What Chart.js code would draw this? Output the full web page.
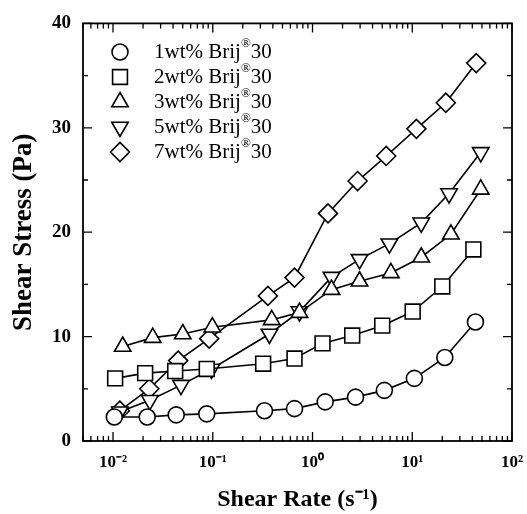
<!DOCTYPE html>
<html>
<head>
<meta charset="utf-8">
<script src="https://cdn.jsdelivr.net/npm/chart.js@4/dist/chart.umd.min.js"></script>
<style>
  body { margin: 0; background: #fff; }
  #wrap { width: 527px; height: 514px; }
</style>
</head>
<body>
<div id="wrap"><canvas id="shearChart" width="527" height="514"></canvas></div>
<script>
// Shear stress vs shear rate, Brij 30 series
const seriesLabels = ['1wt% Brij®30', '2wt% Brij®30', '3wt% Brij®30', '5wt% Brij®30', '7wt% Brij®30'];

const rate1 = [0.0103, 0.022, 0.043, 0.087, 0.33, 0.66, 1.34, 2.7, 5.25, 10.5, 21.2, 43];
const stress1 = [2.3, 2.3, 2.5, 2.6, 2.9, 3.1, 3.75, 4.2, 4.85, 6.0, 8.0, 11.4];

const rate2 = [0.0105, 0.021, 0.042, 0.087, 0.32, 0.66, 1.26, 2.5, 5.0, 10.1, 20, 41];
const stress2 = [6.0, 6.5, 6.7, 6.9, 7.4, 7.9, 9.35, 10.1, 11.05, 12.4, 14.8, 18.35];

const rate3 = [0.0125, 0.025, 0.05, 0.099, 0.39, 0.74, 1.55, 2.96, 6.1, 12.3, 24.4, 48.6];
const stress3 = [9.05, 9.9, 10.25, 10.9, 11.6, 12.3, 14.5, 15.3, 16.1, 17.6, 19.8, 24.1];

const rate4 = [0.0117, 0.0234, 0.048, 0.097, 0.37, 0.74, 1.55, 2.96, 5.9, 12.3, 23.4, 48.6];
const stress4 = [2.8, 3.9, 5.35, 6.9, 10.25, 12.4, 15.7, 17.4, 18.9, 20.9, 23.7, 27.65];

const rate5 = [0.0117, 0.0231, 0.045, 0.092, 0.357, 0.66, 1.43, 2.83, 5.48, 11.0, 21.7, 43.8];
const stress5 = [2.9, 5.0, 7.7, 9.8, 13.9, 15.65, 21.8, 24.9, 27.3, 29.9, 32.4, 36.2];

const yTicks = [0, 10, 20, 30, 40];
const xMin = 0.005, xMax = 100;

const serif = "'Liberation Serif', 'Times New Roman', serif";
const SUP = { '-': '⁻', '0': '⁰', '1': '¹', '2': '²', '3': '³' };

const markers = [
  { pointStyle: 'circle', radius: 8, rotation: 0 },
  { pointStyle: 'rect', radius: 10.5, rotation: 0 },
  { pointStyle: 'triangle', radius: 9.5, rotation: 0 },
  { pointStyle: 'triangle', radius: 9.5, rotation: 180 },
  { pointStyle: 'rectRot', radius: 9.5, rotation: 0 },
];

const pairs = [[rate1, stress1], [rate2, stress2], [rate3, stress3], [rate4, stress4], [rate5, stress5]];

const datasets = pairs.map(([xs, ys], i) => ({
  label: seriesLabels[i],
  data: xs.map((x, j) => ({ x: x, y: ys[j] })),
  showLine: true,
  borderColor: '#000', borderWidth: 1.6,
  pointStyle: markers[i].pointStyle,
  pointRotation: markers[i].rotation,
  pointRadius: markers[i].radius,
  pointHoverRadius: markers[i].radius,
  pointBackgroundColor: '#fff',
  pointBorderColor: '#000',
  pointBorderWidth: 1.6,
  tension: 0,
}));

// ── frame + inward tick marks on all four sides ──
const framePlugin = {
  id: 'frame',
  afterDatasetsDraw(chart) {
    const { ctx, chartArea: a, scales: { x, y } } = chart;
    ctx.save();
    ctx.strokeStyle = '#000';
    ctx.lineWidth = 1.3;
    for (let e = -3; e <= 2; e++) {
      for (let m = 1; m <= 9; m++) {
        const v = m * Math.pow(10, e);
        if (v < xMin - 1e-12 || v > xMax + 1e-9) continue;
        const px = x.getPixelForValue(v);
        const len = m === 1 ? 9 : 5;
        ctx.beginPath();
        ctx.moveTo(px, a.bottom); ctx.lineTo(px, a.bottom - len);
        ctx.moveTo(px, a.top); ctx.lineTo(px, a.top + len);
        ctx.stroke();
      }
    }
    for (let v = 0; v <= 40; v += 5) {
      const py = y.getPixelForValue(v);
      const len = v % 10 === 0 ? 9 : 5;
      ctx.beginPath();
      ctx.moveTo(a.left, py); ctx.lineTo(a.left + len, py);
      ctx.moveTo(a.right, py); ctx.lineTo(a.right - len, py);
      ctx.stroke();
    }
    ctx.lineWidth = 1.8;
    ctx.strokeRect(a.left, a.top, a.right - a.left, a.bottom - a.top);
    ctx.restore();
  }
};

// ── legend in the top-left corner, with superscript ® ──
const legendPlugin = {
  id: 'brijLegend',
  afterDraw(chart) {
    const { ctx } = chart;
    ctx.save();
    chart.data.datasets.forEach((ds, i) => {
      const cy = 52 + i * 25;
      ctx.fillStyle = '#fff';
      ctx.strokeStyle = '#000';
      ctx.lineWidth = 1.6;
      Chart.helpers.drawPoint(ctx, {
        pointStyle: ds.pointStyle, rotation: ds.pointRotation,
        radius: ds.pointRadius, borderWidth: 1.6
      }, 120, cy);
      const [head, tail] = ds.label.split('®');
      ctx.fillStyle = '#000';
      ctx.textBaseline = 'middle';
      ctx.font = '21px ' + serif;
      let tx = 154;
      ctx.fillText(head, tx, cy);
      tx += ctx.measureText(head).width;
      ctx.font = '13px ' + serif;
      ctx.fillText('®', tx, cy - 8);
      tx += ctx.measureText('®').width;
      ctx.font = '21px ' + serif;
      ctx.fillText(tail, tx, cy);
    });
    ctx.restore();
  }
};

new Chart(document.getElementById('shearChart'), {
  type: 'scatter',
  data: { datasets },
  options: {
    responsive: false,
    animation: false,
    layout: { padding: { top: 22, right: 0, left: 0, bottom: 0 } },
    plugins: { legend: { display: false }, tooltip: { enabled: false } },
    scales: {
      x: {
        type: 'logarithmic', min: xMin, max: xMax,
        afterFit: s => { s.height = 73; s.paddingRight = 15; },
        grid: { display: false, drawTicks: false },
        border: { display: false },
        ticks: {
          autoSkip: false, maxRotation: 0, padding: 11, color: '#000',
          font: { family: serif, size: 17, weight: 'bold' },
          callback: v => {
            const l = Math.log10(v);
            if (Math.abs(l - Math.round(l)) > 1e-6) return '';
            return '10' + String(Math.round(l)).split('').map(c => SUP[c]).join('');
          }
        },
        title: {
          display: true, text: 'Shear Rate (s⁻¹)', color: '#000',
          font: { family: serif, size: 24, weight: 'bold' },
          padding: { top: 0, bottom: 0 }
        }
      },
      y: {
        min: 0, max: 40,
        afterFit: s => { s.width = 83; },
        afterBuildTicks: s => { s.ticks = yTicks.map(v => ({ value: v })); },
        grid: { display: false, drawTicks: false },
        border: { display: false },
        ticks: {
          padding: 12, color: '#000',
          font: { family: serif, size: 19, weight: 'bold' }
        },
        title: {
          display: true, text: 'Shear Stress (Pa)', color: '#000',
          font: { family: serif, size: 27, weight: 'bold' },
          padding: { top: 8, bottom: 0 }
        }
      }
    }
  },
  plugins: [framePlugin, legendPlugin]
});
</script>
</body>
</html>
